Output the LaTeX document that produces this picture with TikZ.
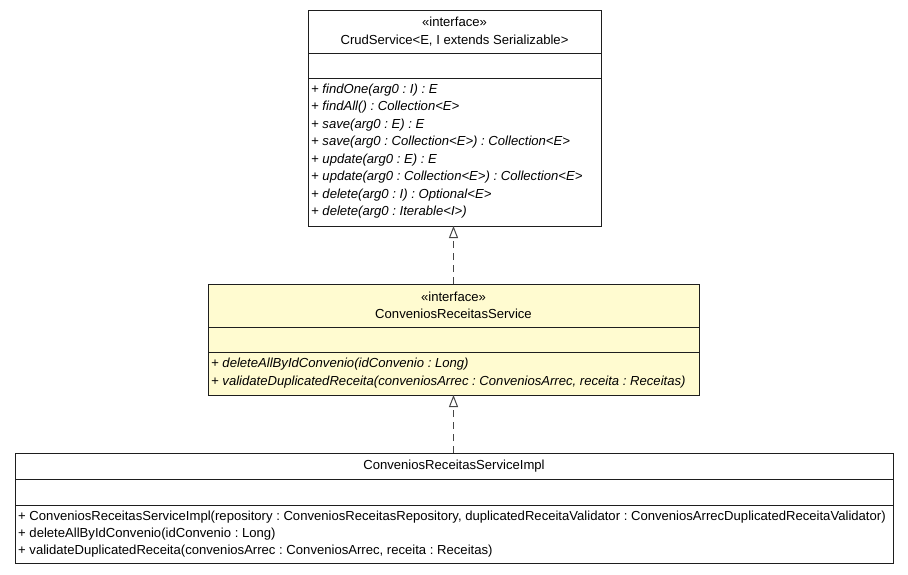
\documentclass[tikz,border=0pt]{standalone}
\usepackage{fontspec}
\setmainfont{Liberation Sans}
\usetikzlibrary{arrows.meta}
\frenchspacing
\definecolor{umlyellow}{RGB}{255,251,208}
\definecolor{umlline}{RGB}{30,30,30}
\definecolor{arrowline}{RGB}{70,70,70}
\begin{document}
\begin{tikzpicture}[x=1pt,y=-1pt,
  box/.style={draw=umlline, line width=1pt, anchor=north west, inner sep=0pt, outer sep=0pt},
  sep/.style={draw=umlline, line width=1pt},
  txt/.style={font=\fontsize{13.1}{15}\selectfont, inner sep=0pt, text=black},
  mth/.style={txt, anchor=west},
  imth/.style={txt, anchor=west, font=\fontsize{13.1}{15}\selectfont\itshape},
  realize/.style={draw=arrowline, line width=1.6pt, dash pattern=on 7pt off 5pt,
    -{Triangle[open, length=12pt, width=9pt, line width=1pt]}}]
\useasboundingbox (0,0) rectangle (908,575);

% CrudService
\node[box, fill=white, minimum width=293pt, minimum height=215pt] (crud) at (308,11) {};
\draw[sep] (308,54) -- (601,54);
\draw[sep] (308,79) -- (601,79);
\node[txt] (crudst) at (454.5,22) {«interface»};
\node[txt] (crudname) at (454.5,41) {CrudService<E, I extends Serializable>};
\node[imth] (c1) at (311,90) {+ findOne(arg0 : I) : E};
\node[imth] (c2) at (311,107.5) {+ findAll() : Collection<E>};
\node[imth] (c3) at (311,125) {+ save(arg0 : E) : E};
\node[imth] (c4) at (311,142.5) {+ save(arg0 : Collection<E>) : Collection<E>};
\node[imth] (c5) at (311,160) {+ update(arg0 : E) : E};
\node[imth] (c6) at (311,177.5) {+ update(arg0 : Collection<E>) : Collection<E>};
\node[imth] (c7) at (311,195) {+ delete(arg0 : I) : Optional<E>};
\node[imth] (c8) at (311,212.5) {+ delete(arg0 : Iterable<I>)};

% ConveniosReceitasService
\node[box, fill=umlyellow, minimum width=491pt, minimum height=111pt] (svc) at (208,284) {};
\draw[sep] (208,327) -- (699,327);
\draw[sep] (208,352) -- (699,352);
\node[txt] (svcst) at (453.5,297) {«interface»};
\node[txt] (svcname) at (453.5,314) {ConveniosReceitasService};
\node[imth] (s1) at (211,364) {+ deleteAllByIdConvenio(idConvenio : Long)};
\node[imth] (s2) at (211,382) {+ validateDuplicatedReceita(conveniosArrec : ConveniosArrec, receita : Receitas)};

% ConveniosReceitasServiceImpl
\node[box, fill=white, minimum width=878pt, minimum height=110pt] (impl) at (15,453) {};
\draw[sep] (15,479) -- (893,479);
\draw[sep] (15,505) -- (893,505);
\node[txt] (implname) at (454,466) {ConveniosReceitasServiceImpl};
\node[mth] (i1) at (18,517) {+ ConveniosReceitasServiceImpl(repository : ConveniosReceitasRepository, duplicatedReceitaValidator : ConveniosArrecDuplicatedReceitaValidator)};
\node[mth] (i2) at (18,534) {+ deleteAllByIdConvenio(idConvenio : Long)};
\node[mth] (i3) at (18,551) {+ validateDuplicatedReceita(conveniosArrec : ConveniosArrec, receita : Receitas)};

% realizations
\draw[realize] (svc.north) -- (svc.north |- crud.south);
\draw[realize] (impl.north -| svc.south) -- (svc.south);
\end{tikzpicture}
\end{document}
